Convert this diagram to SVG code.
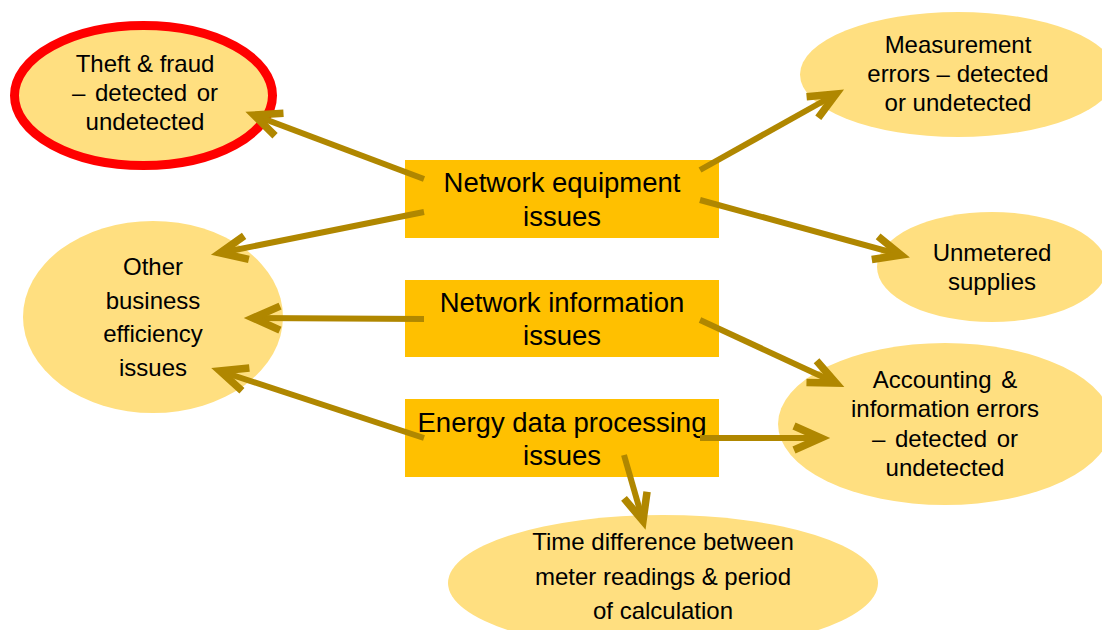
<svg xmlns="http://www.w3.org/2000/svg" width="1102" height="630" viewBox="0 0 1102 630">
<defs>
<style>
.box{fill:#FFC000;}
.ell{fill:#FFDF80;}
.t{font-family:"Liberation Sans",Arial,sans-serif;font-size:24px;fill:#000;text-anchor:middle;}
.tb{font-family:"Liberation Sans",Arial,sans-serif;font-size:27.5px;fill:#000;text-anchor:middle;}
.ws{word-spacing:3px;}
.conn line{stroke:#B08700;stroke-width:6;fill:none;marker-end:url(#ah);}
</style>
<marker id="ah" markerUnits="userSpaceOnUse" markerWidth="60" markerHeight="60" viewBox="-40 -30 60 60" refX="0" refY="0" orient="auto" overflow="visible">
<path d="M-27,-12 L0,0 L-27,12" fill="none" stroke="#B08700" stroke-width="7.5"/>
</marker>
</defs>
<rect width="1102" height="630" fill="#FFFFFF"/>

<g id="theft">
<ellipse class="ell" cx="143.5" cy="95.5" rx="129" ry="70" stroke="#FF0000" stroke-width="9"/>
<text class="t" x="145" y="72">Theft &amp; fraud</text>
<text class="t ws" x="145" y="101">– detected or</text>
<text class="t" x="145" y="130">undetected</text>
</g>

<g id="measurement">
<ellipse class="ell" cx="958" cy="74.5" rx="158" ry="62.5"/>
<text class="t" x="958" y="53">Measurement</text>
<text class="t" x="958" y="82">errors – detected</text>
<text class="t" x="958" y="111">or undetected</text>
</g>

<g id="unmetered">
<ellipse class="ell" cx="992" cy="267" rx="115" ry="55"/>
<text class="t" x="992" y="261">Unmetered</text>
<text class="t" x="992" y="290">supplies</text>
</g>

<g id="other">
<ellipse class="ell" cx="153" cy="317" rx="130" ry="96"/>
<text class="t" x="153" y="275">Other</text>
<text class="t" x="153" y="309">business</text>
<text class="t" x="153" y="342">efficiency</text>
<text class="t" x="153" y="376">issues</text>
</g>

<g id="accounting">
<ellipse class="ell" cx="945" cy="424" rx="167" ry="81"/>
<text class="t ws" x="945" y="388">Accounting &amp;</text>
<text class="t" x="945" y="417">information errors</text>
<text class="t ws" x="945" y="447">– detected or</text>
<text class="t" x="945" y="476">undetected</text>
</g>

<g id="time">
<ellipse class="ell" cx="663" cy="583" rx="215" ry="68"/>
<text class="t" x="663" y="550">Time difference between</text>
<text class="t" x="663" y="585">meter readings &amp; period</text>
<text class="t" x="663" y="619">of calculation</text>
</g>

<g id="equipment">
<rect class="box" x="405" y="160" width="314" height="78"/>
<text class="tb" x="562" y="192">Network equipment</text>
<text class="tb" x="562" y="226">issues</text>
</g>

<g id="information">
<rect class="box" x="405" y="280" width="314" height="77"/>
<text class="tb" x="562" y="312">Network information</text>
<text class="tb" x="562" y="345">issues</text>
</g>

<g id="energy">
<rect class="box" x="405" y="399" width="314" height="78"/>
<text class="tb" x="562" y="432">Energy data processing</text>
<text class="tb" x="562" y="465">issues</text>
</g>

<g id="connectors" class="conn">
<line x1="424" y1="179" x2="254" y2="115"/>
<line x1="424" y1="212" x2="220" y2="253"/>
<line x1="424" y1="319" x2="253" y2="318"/>
<line x1="424" y1="438" x2="220" y2="371"/>
<line x1="700" y1="170" x2="836" y2="94"/>
<line x1="700" y1="200" x2="901" y2="255"/>
<line x1="700" y1="320" x2="836" y2="383"/>
<line x1="700" y1="438" x2="821" y2="438"/>
<line x1="624" y1="455" x2="643" y2="521"/>
</g>
</svg>
